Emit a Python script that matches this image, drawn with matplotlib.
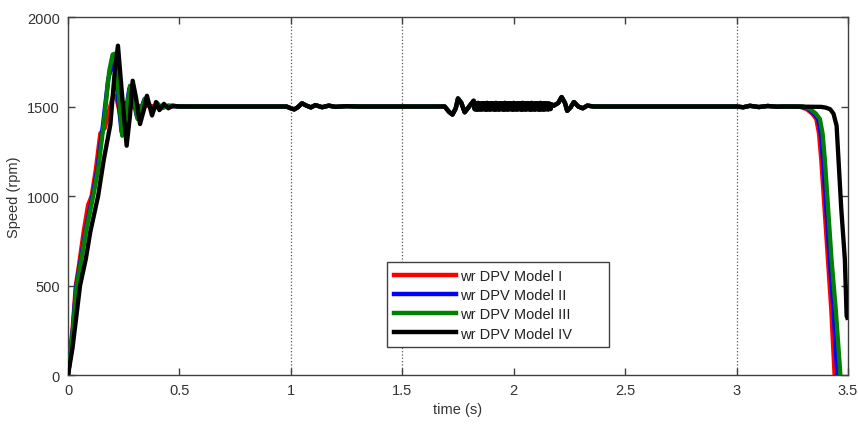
# Speed response of the four DPV models (wr) vs time

import numpy as np
import matplotlib.pyplot as plt

plt.rcParams['font.family'] = ['Liberation Sans', 'DejaVu Sans']

# start-up transient (0 .. 0.5 s)
t_start_1 = [0, 0.01, 0.02, 0.035, 0.05, 0.07, 0.09, 0.106, 0.125, 0.145, 0.165, 0.185, 0.2,
             0.215, 0.235, 0.255, 0.28, 0.3, 0.33, 0.36, 0.4, 0.45]
w_start_1 = [0, 150, 250, 500, 620, 800, 950, 1000, 1150, 1350, 1380, 1480, 1550,
             1560, 1450, 1520, 1490, 1515, 1495, 1505, 1498, 1502]

t_start_2 = [0, 0.015, 0.037, 0.058, 0.078, 0.11, 0.132, 0.157, 0.18, 0.196, 0.206, 0.222,
             0.24, 0.257, 0.275, 0.292, 0.31, 0.326, 0.343, 0.36, 0.38, 0.4, 0.42, 0.45]
w_start_2 = [0, 150, 500, 650, 800, 1000, 1150, 1400, 1650, 1730, 1740, 1580, 1360,
             1450, 1600, 1540, 1440, 1485, 1540, 1520, 1475, 1515, 1492, 1504]

t_start_3 = [0, 0.015, 0.039, 0.06, 0.08, 0.113, 0.135, 0.16, 0.185, 0.2, 0.21, 0.225,
             0.243, 0.26, 0.278, 0.295, 0.312, 0.328, 0.345, 0.36, 0.38, 0.4, 0.42, 0.45]
w_start_3 = [0, 150, 500, 650, 800, 1000, 1150, 1400, 1700, 1790, 1795, 1600,
             1337, 1450, 1616, 1550, 1430, 1480, 1545, 1520, 1470, 1520, 1490, 1505]

t_start_4 = [0, 0.02, 0.054, 0.08, 0.1, 0.135, 0.16, 0.19, 0.21, 0.224, 0.24, 0.263,
             0.278, 0.29, 0.305, 0.323, 0.34, 0.354, 0.377, 0.395, 0.41, 0.43, 0.45, 0.47]
w_start_4 = [0, 150, 500, 650, 800, 1000, 1200, 1400, 1700, 1840, 1600, 1281,
             1450, 1644, 1550, 1402, 1480, 1560, 1450, 1525, 1480, 1515, 1490, 1505]

# steady part with the disturbances at 1 s and 1.7-2.3 s (all models overlap here)
t_mid = [0.5, 0.98, 1.0, 1.015, 1.03, 1.05, 1.07, 1.09, 1.11, 1.14, 1.17, 1.2, 1.25, 1.3,
         1.69, 1.71, 1.725, 1.74, 1.75, 1.765, 1.78, 1.8, 1.82,
         1.825, 1.83, 1.835, 1.84, 1.845, 1.85, 1.855, 1.86, 1.865, 1.87, 1.875, 1.88,
         1.885, 1.89, 1.895, 1.90, 1.905, 1.91, 1.915, 1.92, 1.925, 1.93, 1.935, 1.94,
         1.945, 1.95, 1.955, 1.96, 1.965, 1.97, 1.975, 1.98, 1.985, 1.99, 1.995, 2.00,
         2.005, 2.01, 2.015, 2.02, 2.025, 2.03, 2.035, 2.04, 2.045, 2.05, 2.055, 2.06,
         2.065, 2.07, 2.075, 2.08, 2.085, 2.09, 2.095, 2.10, 2.105, 2.11, 2.115, 2.12,
         2.125, 2.13, 2.135, 2.14, 2.145, 2.15, 2.155, 2.16, 2.165, 2.17,
         2.18, 2.2, 2.215, 2.23, 2.24, 2.255, 2.27, 2.29, 2.31, 2.33, 2.36,
         3.0, 3.03, 3.06, 3.1, 3.14, 3.18, 3.22]
w_mid = [1500, 1500, 1490, 1484, 1495, 1518, 1505, 1495, 1508, 1496, 1505, 1498, 1502, 1500,
         1500, 1470, 1455, 1490, 1545, 1520, 1468, 1500, 1532,
         1485, 1518, 1482, 1520, 1484, 1517, 1483, 1519, 1485, 1518, 1482, 1520,
         1484, 1517, 1483, 1519, 1485, 1518, 1482, 1520, 1484, 1517, 1483, 1519,
         1485, 1518, 1482, 1520, 1484, 1517, 1483, 1519, 1485, 1518, 1482, 1520,
         1484, 1517, 1483, 1519, 1485, 1518, 1482, 1520, 1484, 1517, 1483, 1519,
         1485, 1518, 1482, 1520, 1484, 1517, 1483, 1519, 1485, 1518, 1482, 1520,
         1484, 1517, 1483, 1519, 1485, 1518, 1484, 1516, 1486, 1512,
         1505, 1520, 1553, 1520, 1476, 1495, 1525, 1500, 1490, 1505, 1500,
         1500, 1496, 1504, 1497, 1503, 1499, 1500]

# run-down at the end
t_end_1 = [3.28, 3.314, 3.34, 3.358, 3.37, 3.38, 3.395, 3.41, 3.425, 3.44]
w_end_1 = [1500, 1486, 1460, 1430, 1350, 1207, 927, 648, 369, 0]

t_end_2 = [3.29, 3.322, 3.348, 3.366, 3.378, 3.388, 3.403, 3.418, 3.435, 3.452]
w_end_2 = [1500, 1486, 1460, 1430, 1350, 1207, 927, 648, 369, 0]

t_end_3 = [3.3, 3.33, 3.356, 3.374, 3.386, 3.396, 3.411, 3.426, 3.445, 3.466]
w_end_3 = [1500, 1486, 1460, 1430, 1350, 1207, 927, 648, 369, 0]

t_end_4 = [3.38, 3.40, 3.42, 3.435, 3.449, 3.46, 3.47, 3.486, 3.494, 3.497]
w_end_4 = [1498, 1494, 1485, 1460, 1393, 1150, 927, 648, 331, 320]

labels = ['wr DPV Model I', 'wr DPV Model II', 'wr DPV Model III', 'wr DPV Model IV']
colors = ['#ff0000', '#0000ff', '#008000', '#000000']
event_times = [1, 1.5, 3]

starts = [(t_start_1, w_start_1), (t_start_2, w_start_2), (t_start_3, w_start_3), (t_start_4, w_start_4)]
ends = [(t_end_1, w_end_1), (t_end_2, w_end_2), (t_end_3, w_end_3), (t_end_4, w_end_4)]

txt_col = '#333333'
f_size = 10.5

fig = plt.figure(figsize=(8.58, 4.27), dpi=100)
ax = fig.add_axes([0.0793, 0.1194, 0.909, 0.8384])

for tv in event_times:
    ax.axvline(tv, color='#555555', linestyle=':', linewidth=0.9, zorder=1)

for i in range(4):
    t = np.concatenate([starts[i][0], t_mid, ends[i][0]])
    w = np.concatenate([starts[i][1], w_mid, ends[i][1]])
    ax.plot(t, w, color=colors[i], linewidth=3.1, label=labels[i], zorder=2 + i,
            solid_joinstyle='round')

ax.set_xlim(0, 3.5)
ax.set_ylim(0, 2000)
ax.set_xticks(np.arange(0, 3.51, 0.5))
ax.set_xticklabels(['0', '0.5', '1', '1.5', '2', '2.5', '3', '3.5'])
ax.set_yticks([0, 500, 1000, 1500, 2000])

ax.tick_params(direction='in', top=True, right=True, length=5, width=1,
               color='#404040', labelcolor=txt_col, labelsize=f_size, pad=6)
for pos in ['left', 'right', 'top', 'bottom']:
    ax.spines[pos].set_color('#404040')
    ax.spines[pos].set_linewidth(1.0)

ax.set_xlabel('time (s)', fontsize=f_size, color=txt_col, labelpad=3)
ax.set_ylabel('Speed (rpm)', fontsize=f_size, color=txt_col, labelpad=4)

# matlab-style legend box with extra room on the right
leg = ax.legend(loc='lower left', bbox_to_anchor=(0.409, 0.078, 0.285, 0.238), mode='expand',
                borderaxespad=0, fontsize=f_size, fancybox=False, framealpha=1,
                edgecolor='#404040', handlelength=4.3, handletextpad=0.25,
                labelspacing=0.36, borderpad=0.45)
leg.get_frame().set_linewidth(1.0)
for line in leg.get_lines():
    line.set_linewidth(3.2)
for text in leg.get_texts():
    text.set_color('#222222')

plt.savefig('out.png', dpi=100)
